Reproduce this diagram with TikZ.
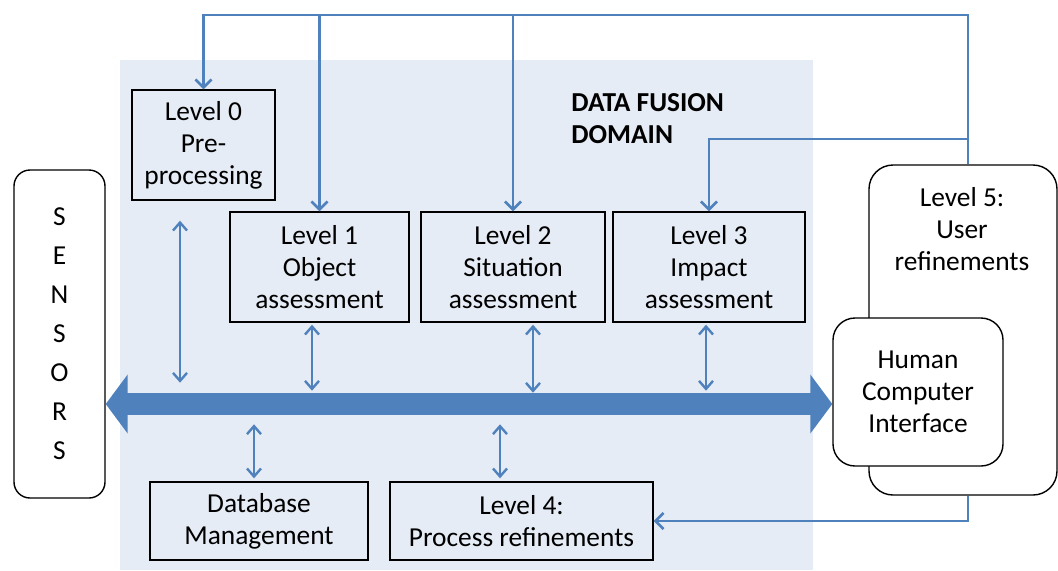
\documentclass[tikz,border=0pt]{standalone}
\usepackage{fontspec}
\setmainfont{Carlito}
\usetikzlibrary{arrows.meta,calc}

\definecolor{linkblue}{RGB}{79,129,189}
\definecolor{domainblue}{RGB}{230,236,245}

\begin{document}
\begin{tikzpicture}[x=0.5pt, y=-0.5pt, font=\fontsize{13.7}{16}\selectfont,
    box/.style={draw, line width=0.7pt, align=center, inner sep=0pt},
    rbox/.style={box, rounded corners=#1, fill=white},
    link/.style={linkblue, line width=1.3pt, -{Straight Barb[length=4pt,width=8pt]}},
    dlink/.style={linkblue, line width=1.2pt, {Straight Barb[length=4pt,width=7pt]}-{Straight Barb[length=4pt,width=7pt]}},
    bus/.style={linkblue, line width=11pt, {Triangle[width=29pt,length=11pt]}-{Triangle[width=29pt,length=11pt]}}]
    \useasboundingbox (0,0) rectangle (1058,570);

    % Domain
    \fill[domainblue] (120,60) rectangle (813,570);
    \node[anchor=west, align=left, inner sep=0pt, font=\fontsize{13.7}{16}\selectfont\bfseries] (domain) at (571,119) {DATA FUSION\\DOMAIN};

    % Sensors
    \node[rbox=8pt, fill=white, minimum width=45.5pt, minimum height=164pt, font=\fontsize{13.7}{19.5}\selectfont]
        (sensors) at (59.5,334) {S\\E\\N\\S\\O\\R\\S};

    % Levels
    \node[box, minimum width=71.5pt, minimum height=55pt] (lvl0) at (203.5,145) {Level 0\\Pre-\\processing};
    \node[box, minimum width=89.5pt, minimum height=55pt] (lvl1) at (319.5,267) {Level 1\\Object\\assessment};
    \node[box, minimum width=92pt, minimum height=55pt] (lvl2) at (513,267) {Level 2\\Situation\\assessment};
    \node[box, minimum width=96pt, minimum height=55pt] (lvl3) at (709,267) {Level 3\\Impact\\assessment};
    \node[box, minimum width=109pt, minimum height=39pt] (db) at (259,521) {Database\\Management};
    \node[box, minimum width=131.5pt, minimum height=39pt] (lvl4) at (521.5,521) {Level 4:\\Process refinements};

    % User side
    \node[rbox=12pt, minimum width=94pt, minimum height=165pt] (lvl5) at (963,330) {};
    \node[align=center] (lvl5txt) at (962,229) {Level 5:\\User\\refinements};
    \node[rbox=11pt, minimum width=85pt, minimum height=74pt] (hci) at (918,392) {Human\\Computer\\Interface};

    % Bus
    \coordinate (busy) at (0,404);
    \draw[bus] (sensors.east |- busy) -- (hci.west |- busy);

    % Links to the bus
    \draw[dlink] ($(lvl0.south)+(-23.5,20)$) -- ++(0,162);
    \draw[dlink] ($(lvl1.south)+(-7.5,2)$) -- ++(0,66);
    \draw[dlink] ($(lvl2.south)+(20,2)$) -- ++(0,68);
    \draw[dlink] ($(lvl3.south)+(-3,2)$) -- ++(0,66);
    \draw[dlink] ($(db.north)+(-5,-3)$) -- ++(0,-54);
    \draw[dlink] ($(lvl4.north)+(-21.5,-3)$) -- ++(0,-54);

    % Feedback
    \coordinate (fb) at (968,15);
    \coordinate (fb3) at (968,139);
    \draw[link] (lvl5.north -| fb) -- (fb) -| (lvl0.north);
    \draw[link] (lvl1.north |- fb) -- (lvl1.north);
    \draw[link] (lvl2.north |- fb) -- (lvl2.north);
    \draw[link] (fb3) -| (lvl3.north);
    \draw[link] (lvl5.south -| fb) |- (lvl4.east);
\end{tikzpicture}
\end{document}
